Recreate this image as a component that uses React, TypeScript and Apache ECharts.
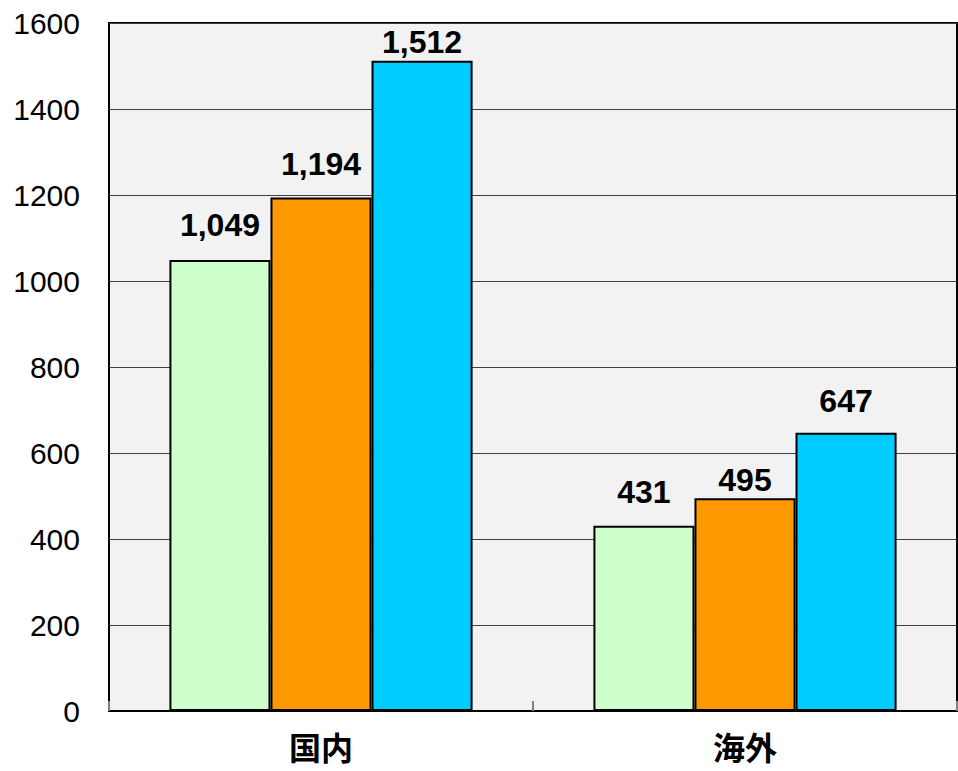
import React, { useEffect, useRef } from "react";
import * as echarts from "echarts";

const categories = ["国内", "海外"];
const series1 = [1049, 431];
const series2 = [1194, 495];
const series3 = [1512, 647];
const yTicks = [0, 200, 400, 600, 800, 1000, 1200, 1400, 1600];
const colors = ["#ccffcc", "#ff9900", "#00ccff"];
// label gaps (style) per series per category
const labelGaps = [
  [19, 18],
  [18, 2],
  [3, 16],
];

export default function App() {
  const ref = useRef<HTMLDivElement>(null);
  useEffect(() => {
    if (!ref.current) return;
    const chart = echarts.init(ref.current, null, { renderer: "svg" });
    const mk = (name: string, data: number[], color: string, gaps: number[]) => ({
      name,
      type: "bar",
      data: data.map((v, i) => ({ value: v, label: { distance: gaps[i] } })),
      barGap: "0%",
      barCategoryGap: "28.5%",
      itemStyle: { color, borderColor: "#000", borderWidth: 2 },
      label: {
        show: true,
        position: "top",
        color: "#000",
        fontFamily: "Liberation Sans",
        fontWeight: "bold",
        fontSize: 32,
        formatter: (p: any) => Number(p.value).toLocaleString("en-US"),
      },
    });
    chart.setOption({
      animation: false,
      grid: {
        left: 109,
        right: 1,
        top: 23,
        bottom: 60,
        show: true,
        backgroundColor: "#f2f2f2",
        borderColor: "#000",
        borderWidth: 2,
      },
      xAxis: {
        type: "category",
        data: categories,
        axisLine: { show: true, lineStyle: { color: "#000", width: 2 } },
        axisTick: { show: true, inside: true, length: 10, lineStyle: { color: "#808080", width: 2 } },
        axisLabel: {
          margin: 19,
          color: "#000",
          fontFamily: "Noto Sans CJK JP",
          fontWeight: "bold",
          fontSize: 32,
          lineHeight: 32,
        },
      },
      yAxis: {
        type: "value",
        min: yTicks[0],
        max: yTicks[yTicks.length - 1],
        interval: yTicks[1] - yTicks[0],
        axisLine: { show: false },
        axisTick: { show: false },
        splitLine: { show: true, lineStyle: { color: "#404040", width: 1 } },
        axisLabel: {
          margin: 29,
          color: "#000",
          fontFamily: "Liberation Sans",
          fontSize: 30,
          formatter: (v: number) => String(v),
        },
      },
      series: [
        mk("s1", series1, colors[0], labelGaps[0]),
        mk("s2", series2, colors[1], labelGaps[1]),
        mk("s3", series3, colors[2], labelGaps[2]),
      ],
    });
    return () => chart.dispose();
  }, []);
  return (
    <div
      ref={ref}
      style={{ position: "absolute", left: 0, top: 0, width: 958, height: 771, background: "#fff" }}
    />
  );
}
